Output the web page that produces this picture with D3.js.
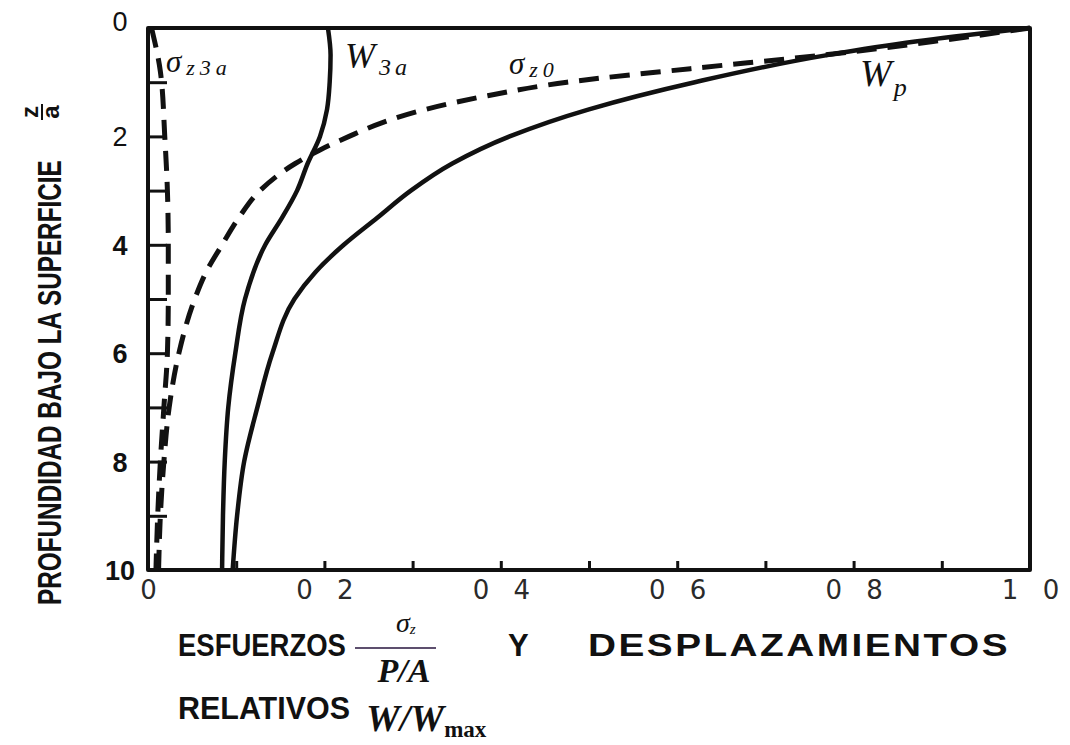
<!DOCTYPE html>
<html>
<head>
<meta charset="utf-8">
<script src="https://cdn.jsdelivr.net/npm/d3@7"></script>
<style>
  html, body { margin: 0; padding: 0; background: #fff; }
  svg { display: block; }
</style>
</head>
<body>
<svg id="chart" width="1070" height="745"></svg>
<script>
// Depth below the surface (z/a) against relative stress / displacement.
// Each series is a list of [z/a, relative value] pairs.
const wP = [[0,1.0],[0.25,0.87],[0.5,0.77],[1,0.62],[1.5,0.50],[2,0.41],[2.5,0.345],[3,0.298],
            [3.5,0.26],[4,0.222],[4.5,0.19],[5,0.166],[6,0.141],[7,0.124],[8,0.109],[9,0.101],[10,0.096]];
const sigmaZ0 = [[0,1.0],[0.25,0.89],[0.5,0.765],[0.75,0.615],[1,0.475],[1.25,0.385],[1.5,0.315],
                 [1.75,0.265],[2,0.228],[2.25,0.195],[2.5,0.167],[3,0.127],[3.5,0.103],[4,0.084],
                 [4.5,0.066],[5,0.053],[6,0.035],[7,0.024],[8,0.018],[9,0.014],[10,0.012]];
const w3a = [[0,0.204],[0.5,0.207],[1,0.206],[1.5,0.203],[2,0.195],[2.5,0.181],[3,0.169],[3.5,0.152],
             [4,0.133],[5,0.110],[6,0.099],[7,0.091],[8,0.087],[9,0.085],[10,0.084]];
const sigmaZ3a = [[0,0.004],[0.8,0.014],[2,0.019],[3,0.022],[4,0.023],[5,0.023],[6,0.022],[7,0.018],
                  [8,0.014],[9,0.011],[10,0.009]];

const xTickMarks = [0.1,0.2,0.3,0.4,0.5,0.6,0.7,0.8,0.9];
const xTickValues = [0,0.2,0.4,0.6,0.8,1.0];
const xTickLabels = ["0","0 2","0 4","0 6","0 8","1 0"];
const yTickMarks = [1,2,3,4,5,6,7,8,9];
const yTickValues = [0,2,4,6,8,10];
const yTickLabels = ["0","2","4","6","8","10"];

const svg = d3.select("#chart");
svg.append("rect").attr("width",1070).attr("height",745).attr("fill","#fff");

const x = d3.scaleLinear().domain([0,1]).range([148,1030]);
const y = d3.scaleLinear().domain([0,10]).range([28,570]);

const ink = "#111";

// tick marks (pointing into the plot)
svg.append("g").attr("transform",`translate(0,${y(10)})`)
  .call(d3.axisBottom(x).tickValues(xTickMarks).tickSize(-9).tickFormat(""))
  .call(g => g.select(".domain").remove())
  .call(g => g.selectAll("line").attr("stroke",ink).attr("stroke-width",3));
svg.append("g").attr("transform",`translate(${x(0)},0)`)
  .call(d3.axisLeft(y).tickValues(yTickMarks).tickSize(-19).tickFormat(""))
  .call(g => g.select(".domain").remove())
  .call(g => g.selectAll("line").attr("stroke",ink).attr("stroke-width",3));

// tick labels
svg.append("g").attr("transform",`translate(0,${y(10)+8})`)
  .call(d3.axisBottom(x).tickValues(xTickValues).tickSize(0)
        .tickFormat((d,i) => xTickLabels[i]))
  .call(g => g.select(".domain").remove())
  .call(g => g.selectAll("text")
     .attr("font-family","DejaVu Sans").attr("font-size",26).attr("font-weight","normal")
     .attr("fill","#2a2a2a").attr("letter-spacing","8px").attr("dx","4px"));
svg.append("g").attr("transform",`translate(${x(0)},0)`)
  .call(d3.axisLeft(y).tickValues(yTickValues).tickSize(0)
        .tickFormat((d,i) => yTickLabels[i]))
  .call(g => g.select(".domain").remove())
  .call(g => g.selectAll("text")
     .attr("font-family","Liberation Sans").attr("font-size",27)
     .attr("font-weight", d => d >= 4 ? "bold" : "normal")
     .attr("fill","#111").attr("text-anchor","middle").attr("x",-28)
     .attr("dy", d => d === 0 ? "0.1em" : "0.35em"));

// frame
svg.append("path")
  .attr("d",`M${x(0)},${y(10)}V${y(0)}H${x(1)}V${y(10)}Z`)
  .attr("fill","none").attr("stroke",ink).attr("stroke-width",4).attr("stroke-linejoin","round");

// curves
const line = d3.line().x(d => x(d[1])).y(d => y(d[0])).curve(d3.curveMonotoneY);
function drawCurve(data, dashed, width) {
  svg.append("path").datum(data).attr("d",line)
    .attr("fill","none").attr("stroke",ink).attr("stroke-width",width)
    .attr("stroke-linecap","butt")
    .attr("stroke-dasharray", dashed ? "20,11" : null);
}
drawCurve(wP, false, 4.5);
drawCurve(w3a, false, 4.5);
drawCurve(sigmaZ0, true, 5);
drawCurve(sigmaZ3a, true, 5);

// curve labels
function curveLabel(px, py, main, sub, size, subSize, shift, spacing) {
  const t = svg.append("text").attr("x",px).attr("y",py)
    .attr("font-family","Liberation Serif").attr("font-style","italic")
    .attr("font-size",size).attr("fill",ink).attr("letter-spacing",spacing + "px");
  t.append("tspan").text(main);
  t.append("tspan").attr("font-size",subSize).attr("dy",shift).text(sub);
}
curveLabel(166, 72, "σ", "z3a", 31, 22, 3, 5);
curveLabel(345, 68, "W", "3a", 36, 24, 7, 4);
curveLabel(509, 74, "σ", "z0", 31, 22, 3, 5);
curveLabel(860, 86, "W", "p", 38, 26, 10, 2);

// fit a text to a given width by scaling it horizontally
function fitWidth(sel, width) {
  const w = sel.node().getComputedTextLength();
  const px = +sel.attr("x"), py = +sel.attr("y");
  sel.attr("x", 0).attr("y", 0)
     .attr("transform", `translate(${px},${py}) scale(${width / w},1)`);
}

// axis titles
const yTitle = svg.append("g").attr("transform","translate(61,605) rotate(-90)");
fitWidth(yTitle.append("text").attr("x",0).attr("y",0)
  .attr("font-family","Liberation Sans").attr("font-weight","bold")
  .attr("font-size",34).attr("fill",ink)
  .text("PROFUNDIDAD BAJO LA SUPERFICIE"), 445);
const frac = svg.append("g").attr("transform","translate(44,112) rotate(-90)");
frac.append("text").attr("x",0).attr("y",-6).attr("text-anchor","middle")
  .attr("font-family","Liberation Sans").attr("font-weight","bold").attr("font-size",24)
  .attr("fill",ink).text("z");
frac.append("line").attr("x1",-8).attr("x2",8).attr("y1",-2).attr("y2",-2)
  .attr("stroke",ink).attr("stroke-width",2);
frac.append("text").attr("x",0).attr("y",15).attr("text-anchor","middle")
  .attr("font-family","Liberation Sans").attr("font-weight","bold").attr("font-size",24)
  .attr("fill",ink).text("a");

const bold = t => t.attr("font-family","Liberation Sans").attr("font-weight","bold")
  .attr("font-size",31).attr("fill",ink);
fitWidth(bold(svg.append("text").attr("x",178).attr("y",656).text("ESFUERZOS")), 168);
bold(svg.append("text").attr("x",508).attr("y",656).text("Y"));
fitWidth(bold(svg.append("text").attr("x",588).attr("y",656).attr("letter-spacing","2px")
  .text("DESPLAZAMIENTOS")), 422);
fitWidth(bold(svg.append("text").attr("x",178).attr("y",719).text("RELATIVOS")), 172);

// σz / (P/A)
const s = svg.append("text").attr("x",396).attr("y",632)
  .attr("font-family","Liberation Serif").attr("font-style","italic").attr("font-size",28).attr("fill",ink);
s.append("tspan").text("σ");
s.append("tspan").attr("font-size",15).attr("dy",2).text("z");
svg.append("line").attr("x1",355).attr("x2",436).attr("y1",648).attr("y2",648)
  .attr("stroke","#5d4f6e").attr("stroke-width",2);
svg.append("text").attr("x",404).attr("y",682).attr("text-anchor","middle")
  .attr("font-family","Liberation Serif").attr("font-style","italic").attr("font-weight","bold")
  .attr("font-size",34).attr("fill",ink).text("P/A");

// W / Wmax
const wm = svg.append("text").attr("x",366).attr("y",731)
  .attr("font-family","Liberation Serif").attr("font-style","italic").attr("font-weight","bold")
  .attr("font-size",38).attr("fill",ink);
wm.append("tspan").text("W/W");
wm.append("tspan").attr("font-style","normal").attr("font-size",23).attr("dy",6).text("max");
</script>
</body>
</html>
